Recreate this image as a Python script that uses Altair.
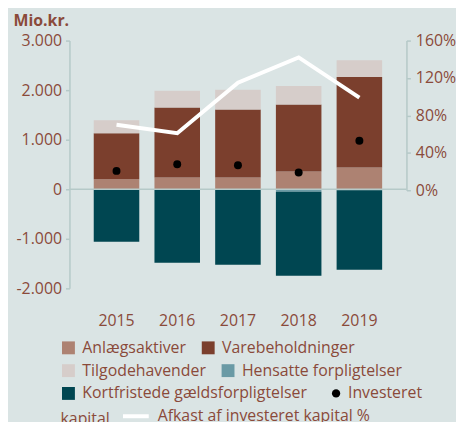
import altair as alt
import pandas as pd

years = ["2015", "2016", "2017", "2018", "2019"]
categories = ["Anlægsaktiver", "Varebeholdninger", "Tilgodehavender",
              "Hensatte forpligtelser", "Kortfristede gældsforpligtelser"]
anlaeg = [200, 238, 238, 358, 437]
vare = [932, 1411, 1371, 1351, 1828]
tilgode = [259, 338, 398, 377, 338]
hensatte = [-15, -15, -10, -50, -20]
kortfristede = [-1045, -1468, -1513, -1695, -1604]
investeret = [371, 503, 483, 338, 980]
afkast = [70, 61, 115, 142, 99]

colors = ["#ad8272", "#7b3f2d", "#d6cdca", "#6a9aa5", "#004651"]
TXT = "#8a4a3a"
AX = "#b5c9c8"
FONT = "Open Sans"
FS = 16

rows = []
for i, y in enumerate(years):
    for k, (cat, vals) in enumerate(zip(categories, [anlaeg, vare, tilgode, hensatte, kortfristede])):
        rows.append({"year": y, "post": cat, "value": vals[i], "ord": k})
df_bars = pd.DataFrame(rows)
df_pts = pd.DataFrame({"year": years, "value": investeret, "serie": "Investeret kapital"})
df_line = pd.DataFrame({"year": years, "afkast": afkast, "serie": "Afkast af investeret kapital %"})
df_zero = pd.DataFrame({"value": [0]})

xenc = alt.X("year:N", sort=years,
             scale=alt.Scale(paddingInner=0.25, paddingOuter=0.4),
             axis=alt.Axis(title=None, labelAngle=0, domain=False, ticks=False,
                           labelPadding=24, labelFontSize=FS, labelColor=TXT, labelFont=FONT))

yscale = alt.Scale(domain=[-2000, 3000], nice=False)
yaxis = alt.Axis(values=[-2000, -1000, 0, 1000, 2000, 3000],
                 labelExpr="(datum.value < 0 ? '-' : '') + replace(format(abs(datum.value), ','), ',', '.')",
                 title="Mio.kr.", titleAngle=0, titleX=-57, titleY=-20, titleAlign="left",
                 titleBaseline="middle", titleFontSize=FS, titleFontWeight="bold",
                 titleColor=TXT, titleFont=FONT,
                 labelFontSize=FS, labelColor=TXT, labelFont=FONT, labelPadding=4,
                 grid=False, domainColor=AX, domainWidth=1.5, tickColor=AX, tickSize=4, tickWidth=1.5)


def leg(x, y, **kw):
    base = dict(orient="none", legendX=x, legendY=y, title=None, direction="horizontal",
                columnPadding=14, symbolType="square", symbolSize=169, symbolStrokeWidth=0,
                labelFontSize=FS, labelColor=TXT, labelFont=FONT, labelOffset=6,
                padding=0, labelLimit=400)
    base.update(kw)
    return alt.Legend(**base)


stacked = alt.Chart(df_bars).transform_stack(
    stack="value", groupby=["year"], as_=["v0", "v1"], sort=[alt.SortField("ord")]
)
yb = alt.Y("v0:Q", scale=yscale, axis=yaxis, title="Mio.kr.")

bars1 = stacked.transform_filter(
    alt.FieldOneOfPredicate(field="post", oneOf=categories[0:2])
).mark_bar().encode(
    x=xenc, y=yb, y2="v1:Q",
    fill=alt.Fill("post:N", scale=alt.Scale(domain=categories[0:2], range=colors[0:2]),
                  legend=leg(-9, 302)),
)
bars2 = stacked.transform_filter(
    alt.FieldOneOfPredicate(field="post", oneOf=categories[2:4])
).mark_bar().encode(
    x=xenc, y=yb, y2="v1:Q",
    color=alt.Color("post:N", scale=alt.Scale(domain=categories[2:4], range=colors[2:4]),
                    legend=leg(-9, 325)),
)
bars3 = stacked.transform_filter(
    alt.FieldOneOfPredicate(field="post", oneOf=categories[4:5])
).mark_bar(color=colors[4]).encode(
    x=xenc, y=yb, y2="v1:Q",
    opacity=alt.Opacity("post:N", scale=alt.Scale(domain=categories[4:5], range=[1]),
                        legend=leg(-9, 348, symbolFillColor=colors[4], symbolOpacity=1)),
)

zero = alt.Chart(df_zero).mark_rule(color=AX, strokeWidth=1.5).encode(
    y=alt.Y("value:Q", scale=yscale, axis=yaxis, title="Mio.kr.")
)

pts = alt.Chart(df_pts).mark_point(filled=True, size=64, color="black", opacity=1).encode(
    x=alt.X("year:N", sort=years),
    y=alt.Y("value:Q", scale=yscale, axis=yaxis, title="Mio.kr."),
    shape=alt.Shape("serie:N", scale=alt.Scale(domain=["Investeret kapital"], range=["circle"]),
                    legend=leg(261, 348, labelExpr="'Investeret'", symbolType="circle",
                               symbolFillColor="black", symbolSize=70, labelOffset=4)),
)

left = alt.layer(bars1, bars2, bars3, zero, pts)

line = alt.Chart(df_line).mark_line(strokeWidth=4).encode(
    x=alt.X("year:N", sort=years),
    y=alt.Y("afkast:Q", scale=alt.Scale(domain=[0, 160], range=[151, 0], nice=False),
            axis=alt.Axis(orient="right", values=[0, 40, 80, 120, 160],
                          labelExpr="datum.value + '%'", title=None,
                          labelFontSize=FS, labelColor=TXT, labelFont=FONT, labelPadding=5,
                          grid=False, domainColor=AX, domainWidth=1.5, tickColor=AX,
                          tickSize=4, tickWidth=1.5)),
    stroke=alt.Stroke("serie:N", scale=alt.Scale(domain=["Afkast af investeret kapital %"], range=["white"]),
                      legend=leg(-9, 364, title="kapital", titleOrient="left", titleFontSize=FS,
                                 titleFontWeight="normal", titleColor=TXT, titleFont=FONT,
                                 titlePadding=11, titleBaseline="line-top", titleLineHeight=12,
                                 symbolType="stroke", symbolSize=676,
                                 symbolStrokeWidth=4, labelOffset=7)),
)

chart = alt.layer(left, line).resolve_scale(y="independent").properties(
    width=340, height=250,
    background="#dae4e4",
    padding={"left": 5, "top": 3, "right": 0, "bottom": 0},
).configure_view(stroke=None)

chart.save("out.html", embed_options={"renderer": "svg", "actions": False})
